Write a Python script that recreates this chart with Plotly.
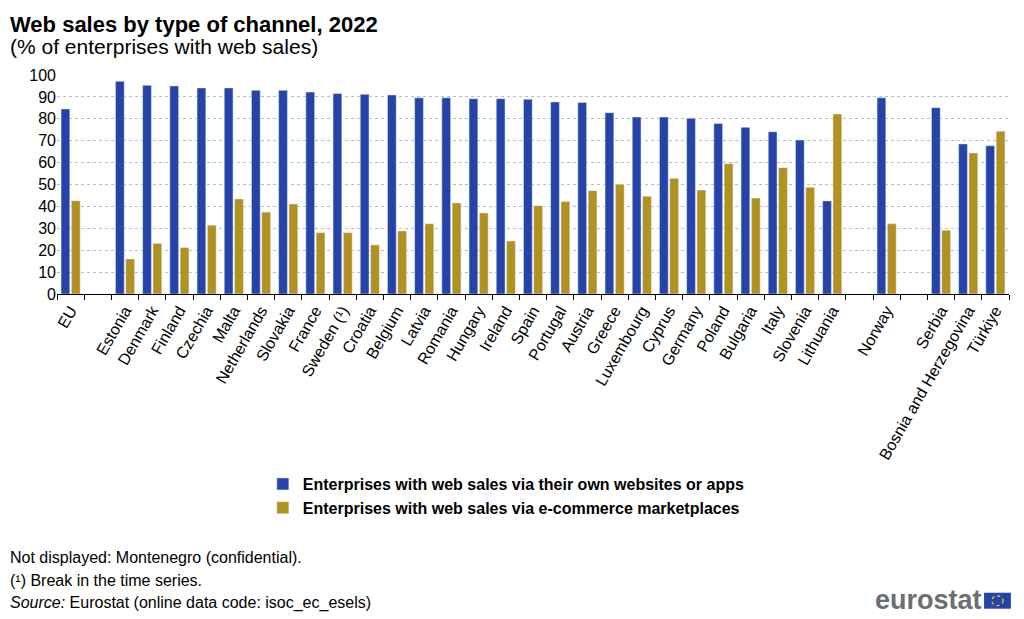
import plotly.graph_objects as go

# region Data
countries = ["EU", " ", "Estonia", "Denmark", "Finland", "Czechia", "Malta",
             "Netherlands", "Slovakia", "France", "Sweden (¹)", "Croatia",
             "Belgium", "Latvia", "Romania", "Hungary", "Ireland", "Spain",
             "Portugal", "Austria", "Greece", "Luxembourg", "Cyprus", "Germany",
             "Poland", "Bulgaria", "Italy", "Slovenia", "Lithuania", "  ",
             "Norway", "   ", "Serbia", "Bosnia and Herzegovina", "Türkiye"]

own_websites = [84.5, None, 97.1, 95.3, 95.0, 94.1, 94.1,
                93.0, 93.0, 92.2, 91.5, 91.2,
                90.9, 89.6, 89.6, 89.2, 89.2, 88.9,
                87.7, 87.4, 82.8, 80.8, 80.8, 80.2,
                77.9, 76.1, 74.1, 70.3, 42.5, None,
                89.6, None, 85.1, 68.5, 67.7]

marketplaces = [42.6, None, 16.0, 23.1, 21.2, 31.4, 43.4,
                37.4, 41.1, 28.0, 28.0, 22.4,
                28.8, 32.1, 41.6, 37.0, 24.2, 40.3,
                42.2, 47.2, 50.1, 44.6, 52.8, 47.5,
                59.5, 43.8, 57.7, 48.7, 82.2, None,
                32.1, None, 29.1, 64.4, 74.3]

y_ticks = [0, 10, 20, 30, 40, 50, 60, 70, 80, 90, 100]
# endregion

font_name = "Liberation Sans, Arial, sans-serif"

figure = go.Figure()
figure.add_trace(go.Bar(name="Enterprises with web sales via their own websites or apps",
                        x=countries, y=own_websites,
                        marker=dict(color="#2644A7")))
figure.add_trace(go.Bar(name="Enterprises with web sales via e-commerce marketplaces",
                        x=countries, y=marketplaces,
                        marker=dict(color="#B09122")))

# title (anchored at top so it stays inside the figure)
figure.add_annotation(text="<b>Web sales by type of channel, 2022</b>", xref="paper", yref="paper",
                      x=-0.0515, y=1.2985, xanchor="left", yanchor="top",
                      showarrow=False, font=dict(size=22, color="black", family=font_name))

# subtitle + footnotes (paper coords worked out from pixel positions)
notes = [
    dict(text="(% of enterprises with web sales)", y=1.132, size=21),
    dict(text="Not displayed: Montenegro (confidential).", y=-1.203, size=16),
    dict(text="(¹) Break in the time series.", y=-1.308, size=16),
    dict(text="<i>Source:</i> Eurostat (online data code: isoc_ec_esels)", y=-1.413, size=16),
]
for n in notes:
    figure.add_annotation(text=n["text"], xref="paper", yref="paper",
                          x=-0.0515, y=n["y"], xanchor="left", yanchor="middle",
                          showarrow=False, font=dict(size=n["size"], color="black", family=font_name))

# eurostat logo
figure.add_annotation(text="<b>eurostat</b>", xref="paper", yref="paper",
                      x=0.9737, y=-1.395, xanchor="right", yanchor="middle",
                      showarrow=False, font=dict(size=27, color="#6D6E70", family=font_name))
figure.add_shape(type="rect", xref="paper", yref="paper",
                 x0=0.9738, x1=1.002, y0=-1.437, y1=-1.364,
                 fillcolor="#2644A7", line=dict(width=0))
figure.add_shape(type="circle", xref="paper", yref="paper",
                 x0=0.9820, x1=0.9938, y0=-1.423, y1=-1.378,
                 line=dict(color="#FFD400", width=1.2, dash="dot"))

# page body has an 8px margin, so the figure is 8px smaller than the window
figure.update_layout(
    width=1016, height=611,
    margin=dict(l=49, r=15, t=67, b=324.5, autoexpand=False),
    paper_bgcolor="white", plot_bgcolor="white",
    font=dict(family=font_name, color="black", size=16),
    barmode="group", bargap=0.24, bargroupgap=0.15,
    showlegend=True,
    legend=dict(orientation="v", x=0.472, y=-0.79, xanchor="center", yanchor="top",
                font=dict(size=16, family=font_name, weight="bold"),
                tracegroupgap=1, itemwidth=30),
)
figure.update_xaxes(type="category", tickangle=-60, tickson="boundaries",
                    ticks="outside", ticklen=5, tickcolor="black",
                    showline=True, linecolor="black", linewidth=1,
                    showgrid=False, tickfont=dict(size=16), automargin=False)
figure.update_yaxes(range=[0, 100], tickvals=y_ticks, showgrid=True,
                    gridcolor="#BDBDBD", griddash="dot", gridwidth=1,
                    zeroline=False, showline=False, ticks="",
                    tickfont=dict(size=16), automargin=False)

figure.write_html("out.html")
